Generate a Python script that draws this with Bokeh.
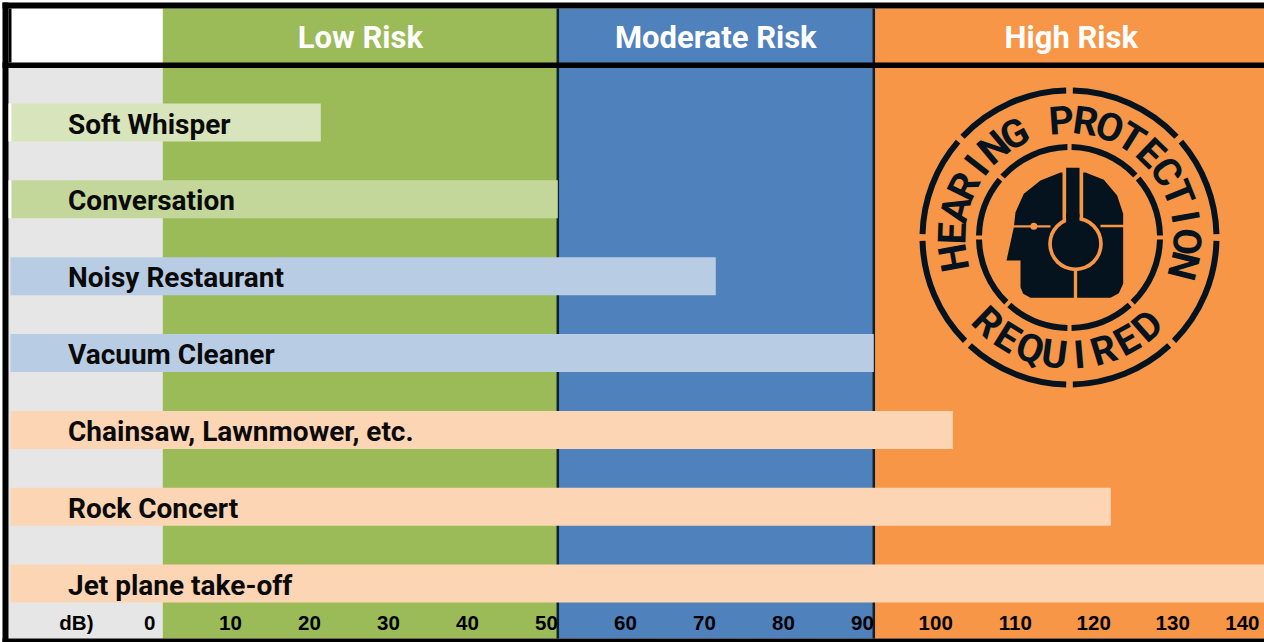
from bokeh.plotting import figure
from bokeh.models import Range1d
from bokeh.core.properties import value
from bokeh.embed import file_html
from bokeh.resources import INLINE
import math

# ---- data ----
categories = ["Soft Whisper", "Conversation", "Noisy Restaurant", "Vacuum Cleaner",
              "Chainsaw, Lawnmower, etc.", "Rock Concert", "Jet plane take-off"]
decibels = [20, 50, 70, 90, 100, 120, 140]
bar_colors = ["#D8E4BC", "#C4D79B", "#B8CCE4", "#B8CCE4", "#FCD5B4", "#FCD5B4", "#FCD5B4"]
zone_names = ["Low Risk", "Moderate Risk", "High Risk"]
zone_start = [0, 50, 90]
zone_end = [50, 90, 140]
zone_colors = ["#9BBB59", "#4F81BD", "#F79646"]
tick_values = [10, 20, 30, 40, 50, 60, 70, 80, 90, 100, 110, 120, 130]

W, H = 1264, 642
PX_PER_DB = 7.9
X0 = 162.3
ROW_PX = 76.85
ROW0 = 122
DARK = "#04131E"

def xd(px): return (px - X0) / PX_PER_DB
def yd(px): return (px - ROW0) / ROW_PX

p = figure(width=W, height=H, output_backend="svg", toolbar_location=None,
           x_range=Range1d(xd(0), xd(W)), y_range=Range1d(yd(H), yd(0)),
           min_border=0, min_border_left=0, min_border_right=0, min_border_top=0, min_border_bottom=0,
           outline_line_color=None, background_fill_color="white", border_fill_color="white",
           margin=(0, 0, 0, 0), styles={"position": "absolute", "left": "0px", "top": "0px"})
p.xaxis.visible = False
p.yaxis.visible = False
p.grid.visible = False
p.extra_x_ranges = {"px": Range1d(0, W)}
p.extra_y_ranges = {"px": Range1d(H, 0)}

def rect_px(l, r, t, b, color):
    p.quad(left=[l], right=[r], top=[t], bottom=[b], x_range_name="px", y_range_name="px",
           fill_color=color, line_color=None)

# left grey column and header white cell
rect_px(8, 163, 67, 638, "#E6E6E6")
rect_px(11, 163, 8, 62, "#FFFFFF")

# risk zones
p.quad(left=zone_start, right=zone_end, top=yd(8), bottom=yd(638),
       fill_color=zone_colors, line_color=None)
# zone dividers
p.segment(x0=[zone_end[0], zone_end[1]], x1=[zone_end[0], zone_end[1]], y0=yd(8), y1=yd(638),
          line_color="#10202c", line_width=2.5)

# frame
rect_px(2, 1264, 2, 8, "#000000")
rect_px(2, 8, 2, 642, "#000000")
rect_px(8, 11, 8, 62, "#000000")
rect_px(2, 1264, 62, 67.5, "#000000")
rect_px(2, 1264, 638, 642, "#000000")

# bars
rows = list(range(len(categories)))
p.hbar(y=rows[:2], left=xd(8), right=xd(11), height=38 / ROW_PX, fill_color="#FFFFFF", line_color=None)
bar_base = [xd(11), xd(11), xd(10), xd(10), xd(10), xd(10), xd(10)]
p.hbar(y=rows, left=bar_base, right=decibels, height=38 / ROW_PX, fill_color=bar_colors, line_color=None)

# bar labels
p.text(x=[xd(67.5)] * len(categories), y=rows, text=categories, text_font=value("Roboto"),
       text_font_size="28px", text_font_style="bold", text_color="#0a0a0a", text_baseline="middle", text_align="left",
       y_offset=1.5)

# zone headings
centers = [(a + b) / 2 for a, b in zip(zone_start, zone_end)]
p.text(x=centers, y=[yd(36.5)] * 3, text=zone_names, text_font=value("Roboto"), text_font_size="31px",
       text_font_style="bold", text_color="#FFFFFF", text_align="center", text_baseline="middle")

# tick labels
p.text(x=tick_values, y=[yd(622)] * len(tick_values), text=[str(t) for t in tick_values],
       text_font=value("Liberation Sans"), text_font_style="bold", text_font_size="20.5px",
       text_color="#000000", text_align="right", text_baseline="middle")
p.text(x=[xd(93), xd(155), xd(1259)], y=[yd(622)] * 3, text=["dB)", "0", "140"],
       text_font=value("Liberation Sans"), text_font_style="bold", text_font_size="20.5px",
       text_color="#000000", text_align="right", text_baseline="middle")

# ---- stamp ----
CX, CY = 1069, 237
def ring(r_in, r_out, gaps, half_gap):
    s, e = [], []
    gaps = sorted(gaps)
    for i, g in enumerate(gaps):
        n = gaps[(i + 1) % len(gaps)]
        s.append(math.radians(g + half_gap))
        e.append(math.radians(n - half_gap + (360 if n <= g else 0)))
    p.annular_wedge(x=[CX] * len(s), y=[CY] * len(s), inner_radius=r_in, outer_radius=r_out,
                    inner_radius_units="screen", outer_radius_units="screen",
                    start_angle=s, end_angle=e, start_angle_units="rad", end_angle_units="rad",
                    direction="anticlock",
                    x_range_name="px", y_range_name="px", fill_color=DARK, line_color=None)
ring(144, 150, [0, 42, 90, 138, 180, 226, 270, 314], 1.3)
ring(87.5, 93.5, [0, 42, 90, 139, 180, 227, 270, 313], 1.3)

def arc_text(word, first, step, radius, top):
    xs, ys, ang = [], [], []
    for i, _ in enumerate(word):
        th = first + step * i
        xs.append(CX + radius * math.cos(math.radians(th)))
        ys.append(CY - radius * math.sin(math.radians(th)))
        ang.append(math.radians(th - 90 if top else th + 90))
    p.text(x=xs, y=ys, text=list(word), angle=ang, x_range_name="px", y_range_name="px",
           text_font=value("Roboto"), text_font_style="bold", text_font_size="39px",
           text_color=DARK, text_align="center", text_baseline="middle")
arc_text("HEARING PROTECTION", 190, -12, 117, True)
arc_text("REQUIRED", 226, 12.2, 118, False)

# head (traced in 3x crop coordinates of the stamp area)
def hx(z): return 900 + z / 3
def hy(z): return 80 + z / 3
head = [(318, 540), (340, 440), (345, 395), (370, 340), (420, 300), (480, 276), (555, 276), (610, 298),
        (650, 345), (668, 400), (668, 610), (655, 638), (630, 652), (390, 652), (368, 640), (360, 620), (360, 540)]
p.patch(x=[hx(a) for a, b in head], y=[hy(b) for a, b in head], x_range_name="px", y_range_name="px",
        fill_color=DARK, line_color=None)
ORANGE = zone_colors[2]
def zrect(l, r, t, b, c):
    rect_px(hx(l), hx(r), hy(t), hy(b), c)
zrect(486, 548, 262, 420, ORANGE)
zrect(497, 537, 262, 425, DARK)
zrect(335, 450, 434, 441, ORANGE)
zrect(600, 675, 433, 440, ORANGE)
zrect(520, 530, 560, 655, ORANGE)
p.circle(x=[hx(525)], y=[hy(490)], radius=82 / 3, radius_units="screen", x_range_name="px", y_range_name="px",
         fill_color=ORANGE, line_color=None)
p.circle(x=[hx(525)], y=[hy(490)], radius=71 / 3, radius_units="screen", x_range_name="px", y_range_name="px",
         fill_color=DARK, line_color=None)
zrect(497, 537, 400, 430, DARK)
p.circle(x=[hx(400)], y=[hy(437)], radius=3.5, radius_units="screen", x_range_name="px", y_range_name="px",
         fill_color=ORANGE, line_color=None)

open("out.html", "w").write(file_html(p, INLINE))
